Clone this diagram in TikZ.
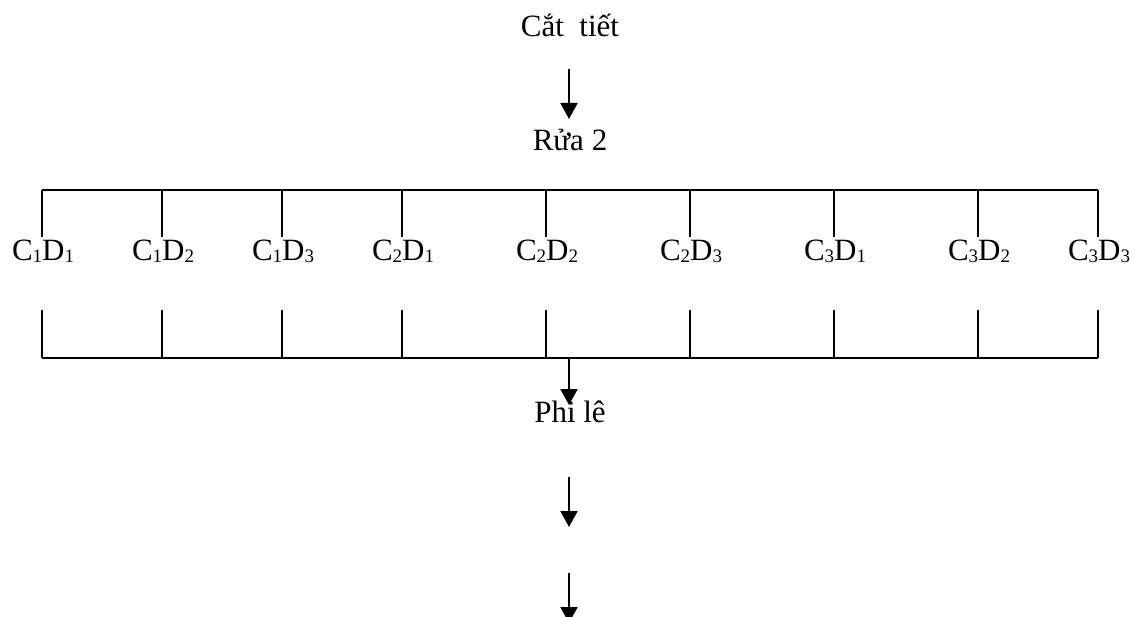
\documentclass[tikz,border=0pt]{standalone}
\usepackage{fontspec}
\setmainfont{Liberation Serif}
\usetikzlibrary{arrows.meta}
% small lowered index digit
\newcommand\idx[1]{\raisebox{-2pt}{\fontsize{19}{19}\selectfont #1}}
\begin{document}
\begin{tikzpicture}[x=1pt,y=1pt,
  txt/.style={inner sep=0pt,font=\fontsize{31}{31}\selectfont},
  lbl/.style={txt,anchor=base west},
  rule/.style={line width=1.9pt},
  flow/.style={line width=1.9pt,-{Triangle[width=17pt,length=16pt]}}]
\useasboundingbox (0,0) rectangle (1134,-617);
\fill[white] (0,0) rectangle (1134,-617);

% process steps
\node[txt,anchor=base] (cat) at (570,-37) {Cắt~~tiết};
\node[txt,anchor=base] (rua) at (570,-151) {Rửa 2};
\node[txt,anchor=base] (phi) at (570,-422) {Phi lê};

% arrow ends
\coordinate (a1s) at (569,-69);
\coordinate (a1e) at (569,-119);
\coordinate (a3s) at (569,-477);
\coordinate (a3e) at (569,-527);
\coordinate (a4s) at (569,-573);
\coordinate (a4e) at (569,-623);

% treatment labels (tick sits between C_i and D_j)
\foreach \x/\c/\d [count=\k] in {42/1/1,162/1/2,282/1/3,402/2/1,546/2/2,690/2/3,834/3/1,978/3/2,1098/3/3}{
  \node[lbl] (t\k) at (\x,-261) {\llap{C\idx{\c}}D\idx{\d}};
  \coordinate (u\k) at (\x,-190);
  \coordinate (v\k) at (\x,-237);
  \coordinate (w\k) at (\x,-310);
  \coordinate (z\k) at (\x,-358);
  \draw[rule] (u\k) -- (v\k);
  \draw[rule] (w\k) -- (z\k);
}
\draw[rule] (u1) -- (u9);
\draw[rule] (z1) -- (z9);
\coordinate (a2s) at (569,-358);
\coordinate (a2e) at (569,-405);

\draw[flow] (a1s) -- (a1e);
\draw[flow] (a2s) -- (a2e);
\draw[flow] (a3s) -- (a3e);
\draw[flow] (a4s) -- (a4e);
\end{tikzpicture}
\end{document}
